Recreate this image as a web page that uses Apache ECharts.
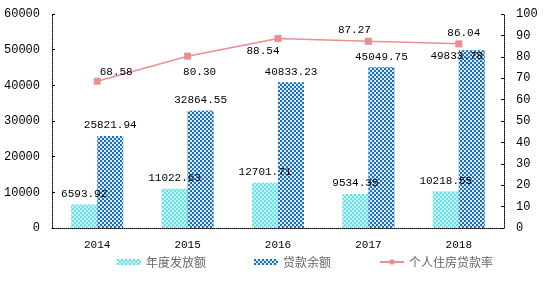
<!DOCTYPE html>
<html><head><meta charset="utf-8">
<script src="https://cdn.jsdelivr.net/npm/echarts@6/dist/echarts.min.js"></script>
<style>html,body{margin:0;padding:0;background:#fff}#c{width:550px;height:281px}</style>
</head><body><div id="c"></div>
<script>
const years = ['2014','2015','2016','2017','2018'];
const annualIssued = [6593.92, 11022.63, 12701.71, 9534.35, 10218.55];
const loanBalance = [25821.94, 32864.55, 40833.23, 45049.75, 49833.78];
const loanRate = [68.58, 80.30, 88.54, 87.27, 86.04];
const leftTicks = {min: 0, max: 60000, interval: 10000};
const rightTicks = {min: 0, max: 100, interval: 10};

const rateOffsets = [[19,0],[12,25],[-15,22],[-14,-2],[5,-2]];
const balanceOffsets = [[0,0],[0,0],[0,0],[0,0],[-15,16]];
const mono = 'Liberation Mono';
const chart = echarts.init(document.getElementById('c'));
chart.setOption({
  animation: false,
  grid: {left: 52, right: 46, top: 14, bottom: 53},
  legend: {
    bottom: 8, left: 112, itemWidth: 24, itemHeight: 6, itemGap: 48,
    textStyle: {color: '#666', fontSize: 12, fontFamily: 'Noto Sans CJK SC'},
    data: [{name:'年度发放额', icon:'rect'}, {name:'贷款余额', icon:'rect'}, {name:'个人住房贷款率'}]
  },
  xAxis: {
    type: 'category', data: years,
    axisLine: {lineStyle: {color: '#000', type: 'dotted', width: 1}},
    axisTick: {inside: true, length: 3, lineStyle: {color: '#000'}},
    axisLabel: {color: '#000', fontFamily: mono, fontSize: 11, margin: 12}
  },
  yAxis: [
    {type: 'value', min: leftTicks.min, max: leftTicks.max, interval: leftTicks.interval,
     splitLine: {show: false},
     axisLine: {show: true, lineStyle: {color: '#000', type: 'dotted'}},
     axisTick: {show: true, inside: true, length: 3, lineStyle: {color: '#000'}},
     axisLabel: {color: '#000', fontFamily: mono, fontSize: 12, margin: 12, formatter: v => String(v)}},
    {type: 'value', min: rightTicks.min, max: rightTicks.max, interval: rightTicks.interval,
     splitLine: {show: false},
     axisLine: {show: true, lineStyle: {color: '#000', type: 'dotted'}},
     axisTick: {show: true, inside: true, length: 3, lineStyle: {color: '#000'}},
     axisLabel: {color: '#000', fontFamily: mono, fontSize: 12, margin: 12, formatter: v => String(v)}}
  ],
  series: [
    {name: '年度发放额', type: 'bar', barWidth: 26, barGap: '0%',
     data: annualIssued,
     itemStyle: {color: '#6fdfe6', decal: {symbol: 'rect', color: 'rgba(255,255,255,0.6)', dashArrayX: [[2,2],[0,2,2,0]], dashArrayY: [2,0], symbolSize: 1, rotation: 0}},
     label: {show: true, position: 'top', distance: 5, color: '#000', fontFamily: mono, fontSize: 11,
             formatter: p => p.value.toFixed(2)}},
    {name: '贷款余额', type: 'bar', barWidth: 26, barGap: '0%',
     data: loanBalance.map((v, i) => ({value: v, label: {offset: balanceOffsets[i]}})),
     itemStyle: {color: '#1a6fba', decal: {symbol: 'rect', color: 'rgba(255,255,255,0.85)', dashArrayX: [[2,2],[0,2,2,0]], dashArrayY: [2,0], symbolSize: 1, rotation: 0}},
     label: {show: true, position: 'top', distance: 5, color: '#000', fontFamily: mono, fontSize: 11,
             formatter: p => p.value.toFixed(2)}},
    {name: '个人住房贷款率', type: 'line', yAxisIndex: 1,
     data: loanRate.map((v, i) => ({value: v, label: {offset: rateOffsets[i]}})),
     symbol: 'rect', symbolSize: 7,
     lineStyle: {color: '#e8908f', width: 1.5},
     itemStyle: {color: '#e8908f'},
     label: {show: true, position: 'top', distance: 0, color: '#000', fontFamily: mono, fontSize: 11,
             formatter: p => p.value.toFixed(2)}}
  ]
});
</script></body></html>
